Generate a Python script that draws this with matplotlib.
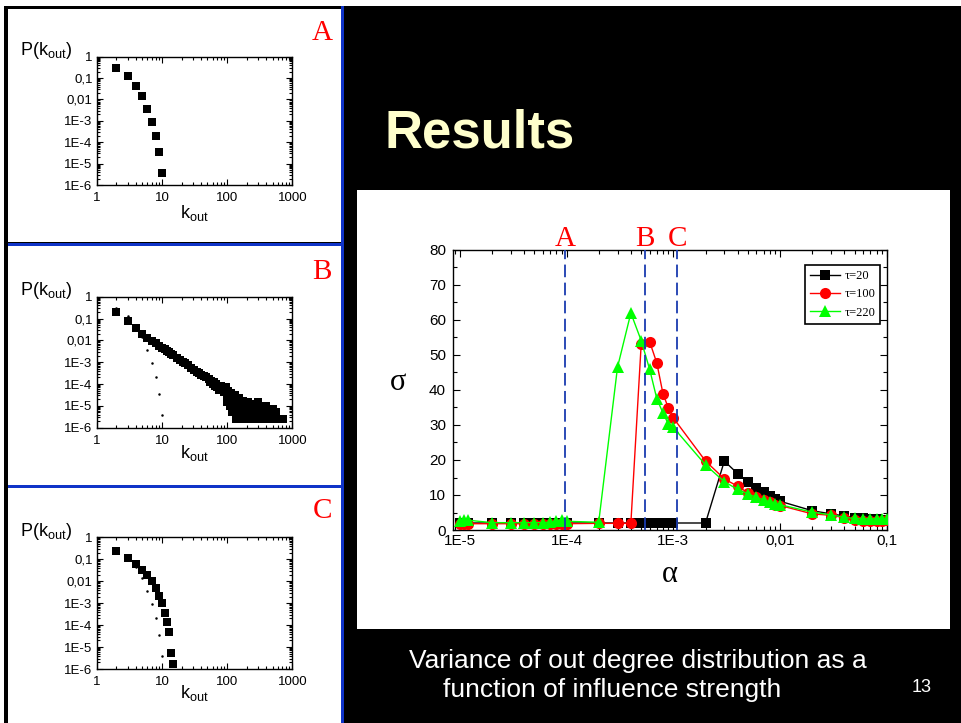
import matplotlib
matplotlib.use('Agg')
import matplotlib.pyplot as plt
from matplotlib.patches import Rectangle
from matplotlib.ticker import LogLocator, NullFormatter, MultipleLocator

plt.rcParams['font.family'] = ['Liberation Sans', 'DejaVu Sans']
plt.rcParams['mathtext.fontset'] = 'custom'
plt.rcParams['mathtext.rm'] = 'Liberation Sans'
plt.rcParams['mathtext.it'] = 'Liberation Sans:italic'

# ---- data: main chart (sigma vs alpha) ----
alpha = [1e-5, 1.1e-5, 1.2e-5, 2e-5, 3e-5, 4e-5, 5e-5, 6e-5, 7e-5, 8e-5, 9e-5,
         1e-4, 2e-4, 3e-4, 4e-4, 5e-4, 6e-4, 7e-4, 8e-4, 9e-4, 1e-3,
         2e-3, 3e-3, 4e-3, 5e-3, 6e-3, 7e-3, 8e-3, 9e-3, 1e-2,
         2e-2, 3e-2, 4e-2, 5e-2, 6e-2, 7e-2, 8e-2, 9e-2, 1e-1]

sigma_tau20 = [2.0, 2.0, 2.0, 2.0, 2.0, 2.0, 2.0, 2.0, 2.0, 2.0, 2.0,
               2.0, 2.0, 2.0, 2.0, 2.0, 2.0, 2.0, 2.0, 2.0, 2.0,
               2.0, 19.7, 16.1, 13.8, 12.0, 10.8, 9.8, 9.0, 8.2,
               5.5, 4.6, 4.0, 3.5, 3.3, 3.2, 3.1, 3.0, 3.0]

sigma_tau100 = [1.8, 1.8, 1.8, 1.8, 1.8, 1.8, 1.8, 1.8, 1.8, 1.8, 1.8,
                1.8, 1.9, 1.9, 1.9, 53.2, 53.8, 47.7, 38.9, 34.8, 32.0,
                19.7, 14.6, 12.5, 10.6, 9.5, 8.7, 8.0, 7.2, 7.0,
                4.6, 4.2, 3.5, 3.0, 2.6, 2.5, 2.6, 2.7, 2.8]

sigma_tau220 = [2.5, 3.0, 2.8, 2.1, 2.1, 2.1, 2.1, 2.1, 2.2, 2.5, 3.0,
                2.5, 2.2, 46.5, 62.0, 54.1, 45.9, 37.5, 33.4, 30.2, 29.3,
                18.6, 13.8, 11.6, 10.3, 9.3, 8.6, 8.0, 7.4, 7.2,
                5.1, 4.3, 3.6, 3.3, 3.2, 3.2, 3.2, 3.2, 3.2]

regime_alpha = [9.7e-5, 5.45e-4, 1.09e-3]
regime_names = ['A', 'B', 'C']
alpha_ticks = [1e-5, 1e-4, 1e-3, 1e-2, 1e-1]
alpha_ticklabels = ['1E-5', '1E-4', '1E-3', '0,01', '0,1']

# ---- data: out-degree distributions ----
k_A = [2, 3, 4, 5, 6, 7, 8, 9, 10]
p_A = [0.29, 0.125, 0.043, 0.0146, 0.0037, 8.9e-4, 2.0e-4, 3.5e-5, 3.8e-6]

k_B = [2, 3, 4, 5, 6, 7, 8, 9, 10, 11, 12, 13, 14, 15, 17, 19, 21, 23, 25,
       28, 31, 34, 37, 40, 44, 48, 52, 57, 62, 68, 74, 80, 86, 92, 98,
       55, 60, 65, 70, 75, 80, 85, 90, 95, 100, 105, 110, 115, 120, 130,
       140, 150, 160, 175, 190, 210, 230, 250, 280, 300, 330, 360, 400,
       450, 500, 550,
       100, 110, 120, 130, 150, 180, 210, 270, 320, 380,
       120, 140, 165, 190, 220, 260, 300, 350, 400, 480, 560,
       135, 155, 175, 200, 230, 260, 300, 340, 390, 440, 500, 570, 650, 720]
p_B = [0.2, 0.075, 0.037, 0.02, 0.0125, 0.0095, 0.0072, 0.0058, 0.0047,
       0.0039, 0.0033, 0.0028, 0.0024, 0.0021, 0.0016, 0.0013, 0.00105,
       0.00088, 0.00074, 0.00052, 0.00042, 0.00036, 0.00031, 0.00027,
       0.00023, 0.0002, 0.00017, 0.00014, 0.00012, 0.0001, 8.5e-5, 7.2e-5,
       6.2e-5, 5.4e-5, 4.7e-5,
       1.2e-4, 1e-4, 8e-5, 7e-5, 5.5e-5, 8e-5, 6e-5, 4.5e-5, 7e-5, 3.5e-5,
       5e-5, 2.5e-5, 4e-5, 2e-5, 3e-5, 1.5e-5, 2.2e-5, 1.2e-5, 1.75e-5,
       1e-5, 1.5e-5, 7.5e-6, 1.25e-5, 1e-5, 1.5e-5, 7.5e-6, 5e-6, 1e-5,
       5e-6, 7.5e-6, 5e-6,
       1.5e-5, 1e-5, 7.5e-6, 7.5e-6, 7.5e-6, 7.5e-6, 7.5e-6, 7.5e-6,
       7.5e-6, 7.5e-6,
       5e-6, 5e-6, 5e-6, 5e-6, 5e-6, 5e-6, 5e-6, 5e-6, 5e-6, 5e-6, 5e-6,
       2.5e-6, 2.5e-6, 2.5e-6, 2.5e-6, 2.5e-6, 2.5e-6, 2.5e-6, 2.5e-6,
       2.5e-6, 2.5e-6, 2.5e-6, 2.5e-6, 2.5e-6, 2.5e-6]

k_C = [2, 3, 4, 5, 6, 7, 8, 9, 10, 11, 12, 13, 14, 15]
p_C = [0.24, 0.117, 0.061, 0.033, 0.019, 0.010, 5.1e-3, 2.2e-3, 9.8e-4,
       3.7e-4, 1.4e-4, 4.7e-5, 5.5e-6, 1.7e-6]

k_ticks = [1, 10, 100, 1000]
k_ticklabels = ['1', '10', '100', '1000']
p_ticks = [1e-6, 1e-5, 1e-4, 1e-3, 1e-2, 1e-1, 1]
p_ticklabels = ['1E-6', '1E-5', '1E-4', '1E-3', '0,01', '0,1', '1']

W, H = 961, 723
BLUE = '#1034c8'
SERIF = 'Liberation Serif'


def box(x0, y0, x1, y1):
    """pixel box (top-left origin) -> figure fraction [l, b, w, h]"""
    return [x0 / W, 1 - y1 / H, (x1 - x0) / W, (y1 - y0) / H]


def rect(fig, x0, y0, x1, y1, color):
    l, b, w, h = box(x0, y0, x1, y1)
    fig.add_artist(Rectangle((l, b), w, h, transform=fig.transFigure,
                             facecolor=color, edgecolor='none', zorder=0))


def ftext(fig, x, y, s, **kw):
    fig.text(x / W, 1 - y / H, s, **kw)


fig = plt.figure(figsize=(W / 100, H / 100), dpi=100, facecolor='black')

# slide background pieces
rect(fig, 0, 0, W, 6, 'white')
rect(fig, 0, 0, 4, H, 'white')
rect(fig, 8, 9, 341, 242.5, 'white')
rect(fig, 8, 245.5, 341, 484.5, 'white')
rect(fig, 8, 487.5, 341, H, 'white')
rect(fig, 341, 6, 344, H, BLUE)
rect(fig, 8, 242.5, 344, 245.5, BLUE)
rect(fig, 8, 484.5, 344, 487.5, BLUE)
rect(fig, 357, 190, 950, 629, 'white')


def kpanel(y_top, y_bot, letter, letter_y, klabel_y, big_k, big_p, dots=False):
    ax = fig.add_axes(box(96.7, y_top, 292.3, y_bot))
    ax.set_xscale('log')
    ax.set_yscale('log')
    ax.plot(big_k, big_p, 's', color='black', ms=5.8, mew=0, zorder=3)
    if dots:
        ax.plot(k_A, p_A, '.', color='black', ms=1.6, zorder=2)
    ax.set_xlim(1, 1000)
    ax.set_ylim(1e-6, 1)
    ax.set_xticks(k_ticks, labels=k_ticklabels)
    ax.set_yticks(p_ticks, labels=p_ticklabels)
    ax.xaxis.set_minor_locator(LogLocator(subs=range(2, 10), numticks=100))
    ax.yaxis.set_minor_locator(LogLocator(subs=range(2, 10), numticks=100))
    ax.xaxis.set_minor_formatter(NullFormatter())
    ax.yaxis.set_minor_formatter(NullFormatter())
    ax.tick_params(which='both', direction='in', top=True, right=True,
                   width=0.8)
    ax.tick_params(which='major', length=4)
    ax.tick_params(which='minor', length=2)
    ax.tick_params(axis='x', pad=5, labelsize=9.5)
    ax.tick_params(axis='y', pad=3, labelsize=9.5)
    for sp in ax.spines.values():
        sp.set_linewidth(1.0)
    ftext(fig, 20, y_top - 1.5, r'P(k$_{\mathrm{out}}$)', fontsize=13,
          va='baseline', ha='left')
    ftext(fig, 194, klabel_y, r'k$_{\mathrm{out}}$', fontsize=13,
          va='baseline', ha='center')
    ftext(fig, 322, letter_y, letter, fontsize=21, color='red',
          family=SERIF, ha='center', va='center')
    return ax


kpanel(56.7, 185, 'A', 33, 218, k_A, p_A)
kpanel(296.7, 427.7, 'B', 272, 457.7, k_B, p_B, dots=True)
kpanel(537.3, 669, 'C', 511, 698, k_C, p_C, dots=True)

# ---- main chart ----
ax = fig.add_axes(box(453, 250, 887, 530))
ax.set_xscale('log')
ax.plot(alpha, sigma_tau20, '-s', color='black', lw=1.0, ms=7.5, mew=0,
        label='τ=20', zorder=3)
ax.plot(alpha, sigma_tau100, '-o', color='red', lw=1.0, ms=8, mew=0,
        label='τ=100', zorder=4)
ax.plot(alpha, sigma_tau220, '-^', color='#00ff00', lw=1.0, ms=8, mew=0,
        label='τ=220', zorder=5)
for a, name in zip(regime_alpha, regime_names):
    ax.axvline(a, color='#1a3cb0', lw=1.3, dashes=(7, 3), zorder=6)
    ax.text(a, 81, name, color='red', fontsize=21, family=SERIF,
            ha='center', va='baseline')
ax.set_xlim(10 ** -5.063, 0.1)
ax.set_ylim(0, 80)
ax.set_xticks(alpha_ticks, labels=alpha_ticklabels)
ax.xaxis.set_minor_locator(LogLocator(subs=range(2, 10), numticks=100))
ax.xaxis.set_minor_formatter(NullFormatter())
ax.yaxis.set_major_locator(MultipleLocator(10))
ax.yaxis.set_minor_locator(MultipleLocator(5))
ax.tick_params(which='both', direction='in', top=True, right=True,
               labelsize=11, width=0.8)
ax.tick_params(which='major', length=5)
ax.tick_params(which='minor', length=3)
ax.tick_params(axis='x', pad=3)
ax.tick_params(axis='y', pad=5)
for sp in ax.spines.values():
    sp.set_linewidth(1.0)

leg = ax.legend(loc='upper right', bbox_to_anchor=(0.984, 0.946),
                prop={'family': SERIF, 'size': 9},
                fancybox=False, edgecolor='black', framealpha=1,
                handlelength=2.4, borderpad=0.4, labelspacing=0.5,
                handletextpad=0.3, borderaxespad=0)
leg.get_frame().set_linewidth(1.2)

ftext(fig, 398, 382, 'σ', fontsize=22, family=SERIF, ha='center', va='center')
ftext(fig, 670, 575, 'α', fontsize=22, family=SERIF, ha='center', va='center')

# ---- slide text ----
ftext(fig, 385, 148, 'Results', color='#FFFFCC', fontsize=38,
      fontweight='bold', va='baseline', ha='left')
ftext(fig, 638, 661, 'Variance of out degree distribution as a',
      color='white', fontsize=19, ha='center', va='center')
ftext(fig, 612, 690, 'function of influence strength',
      color='white', fontsize=19, ha='center', va='center')
ftext(fig, 922, 688, '13', color='white', fontsize=13, ha='center',
      va='center')

fig.savefig('out.png', dpi=100, facecolor='black')
